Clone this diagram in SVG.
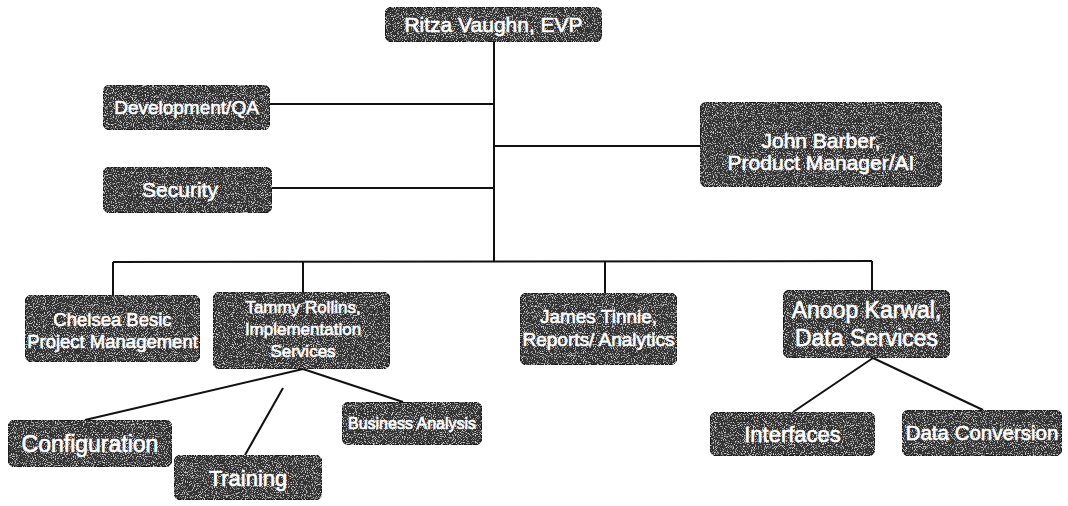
<svg xmlns="http://www.w3.org/2000/svg" width="1068" height="506" viewBox="0 0 1068 506">
<defs>
<filter id="grain" x="0" y="0" width="100%" height="100%">
<feTurbulence type="fractalNoise" baseFrequency="0.9" numOctaves="2" seed="7" result="n"/>
<feColorMatrix in="n" type="matrix" values="0 0 0 0 0.62  0 0 0 0 0.62  0 0 0 0 0.62  5 0 0 0 -2.65" result="spk"/>
<feComposite in="spk" in2="SourceGraphic" operator="in" result="s2"/>
<feMerge><feMergeNode in="SourceGraphic"/><feMergeNode in="s2"/></feMerge>
</filter>
</defs>
<style>
.box{fill:#333;stroke:#1a1a1a;stroke-width:1.5;filter:url(#grain)}
.t{font-family:"Liberation Sans",Arial,sans-serif;fill:#fff;stroke:#fff;stroke-width:0.6;text-anchor:middle}
.c{stroke:#111;stroke-width:2;fill:none}
</style>
<rect width="1068" height="506" fill="#fff"/>
<g id="connectors">
<line class="c" x1="494" y1="42" x2="494" y2="262"/>
<line class="c" x1="270" y1="104" x2="494" y2="104"/>
<line class="c" x1="272" y1="188" x2="494" y2="188"/>
<line class="c" x1="494" y1="146" x2="700" y2="146"/>
<line class="c" x1="113" y1="262" x2="872" y2="261"/>
<line class="c" x1="113" y1="262" x2="113" y2="295"/>
<line class="c" x1="303" y1="262" x2="303" y2="292"/>
<line class="c" x1="605" y1="261" x2="605" y2="293"/>
<line class="c" x1="872" y1="261" x2="872" y2="290"/>
<line class="c" x1="303" y1="369" x2="85" y2="420"/>
<line class="c" x1="303" y1="369" x2="403" y2="402"/>
<line class="c" x1="283" y1="388" x2="245" y2="455"/>
<line class="c" x1="873" y1="358" x2="793" y2="412"/>
<line class="c" x1="873" y1="358" x2="983" y2="410"/>
</g>
<g id="ritza"><rect class="box" x="385" y="7" width="217" height="35" rx="8"/><text class="t" x="493.5" y="32" font-size="21">Ritza Vaughn, EVP</text></g>
<g id="devqa"><rect class="box" x="103" y="85" width="167" height="45" rx="8"/><text class="t" x="186.5" y="114" font-size="19">Development/QA</text></g>
<g id="security"><rect class="box" x="103" y="167" width="169" height="46" rx="8"/><text class="t" x="180" y="197" font-size="21">Security</text></g>
<g id="john"><rect class="box" x="700" y="102" width="242" height="85" rx="8"/><text class="t" x="821" y="148" font-size="21">John Barber,</text><text class="t" x="821" y="170" font-size="21">Product Manager/AI</text></g>
<g id="chelsea"><rect class="box" x="25" y="295" width="175" height="67" rx="8"/><text class="t" x="112.5" y="326" font-size="18.5">Chelsea Besic</text><text class="t" x="112.5" y="348" font-size="18.5">Project Management</text></g>
<g id="tammy"><rect class="box" x="213" y="292" width="177" height="77" rx="8"/><text class="t" x="303" y="313" font-size="17">Tammy Rollins,</text><text class="t" x="303" y="335" font-size="17">Implementation</text><text class="t" x="303" y="357" font-size="17">Services</text></g>
<g id="james"><rect class="box" x="520" y="293" width="157" height="72" rx="8"/><text class="t" x="598.5" y="323" font-size="19">James Tinnie,</text><text class="t" x="598.5" y="346" font-size="19">Reports/ Analytics</text></g>
<g id="anoop"><rect class="box" x="783" y="290" width="167" height="68" rx="8"/><text class="t" x="866.5" y="318" font-size="23">Anoop Karwal,</text><text class="t" x="866.5" y="346" font-size="23">Data Services</text></g>
<g id="configuration"><rect class="box" x="8" y="420" width="164" height="47" rx="8"/><text class="t" x="90" y="452" font-size="23">Configuration</text></g>
<g id="training"><rect class="box" x="174" y="455" width="148" height="45" rx="8"/><text class="t" x="248" y="486" font-size="22">Training</text></g>
<g id="business"><rect class="box" x="342" y="402" width="140" height="43" rx="8"/><text class="t" x="412" y="429" font-size="16">Business Analysis</text></g>
<g id="interfaces"><rect class="box" x="710" y="412" width="165" height="44" rx="8"/><text class="t" x="792.5" y="442" font-size="22">Interfaces</text></g>
<g id="dataconv"><rect class="box" x="902" y="410" width="160" height="46" rx="8"/><text class="t" x="982" y="440" font-size="20.5">Data Conversion</text></g>
</svg>
